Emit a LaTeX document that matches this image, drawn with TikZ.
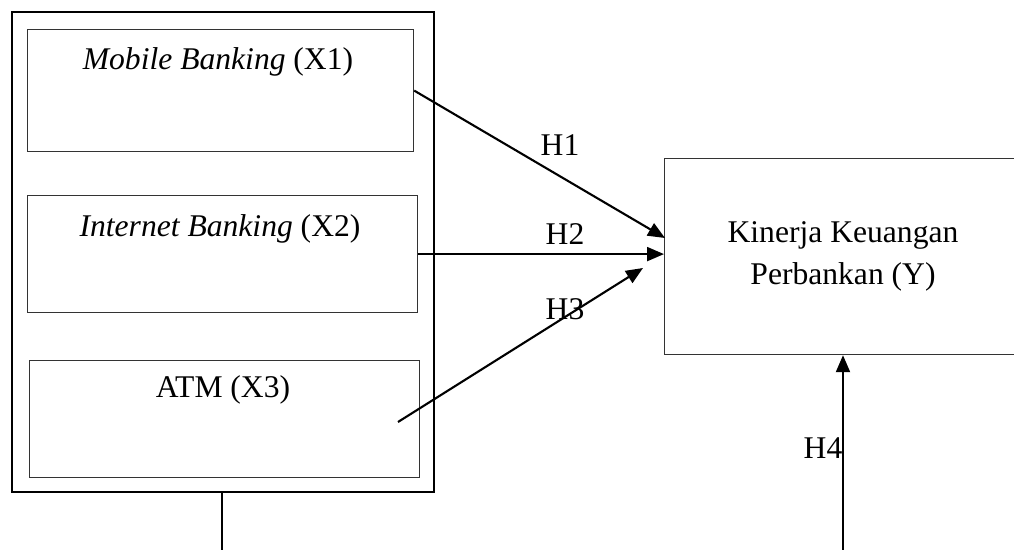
\documentclass[tikz,border=0pt]{standalone}
\usepackage{fontspec}
\setmainfont{Liberation Serif}
\usetikzlibrary{arrows.meta,positioning}

\begin{document}
\begin{tikzpicture}[
    x=0.5pt,y=-0.5pt,line cap=butt,
    >={Triangle[length=8.5pt,width=7pt]},
    txt/.style={font=\fontsize{15.8}{21}\selectfont,inner sep=0pt,align=center},
    varbox/.style={draw=black!80,line width=0.6pt,inner sep=0pt,anchor=north west},
    arr/.style={->,line width=1.05pt},
    hlab/.style={txt}]
  \useasboundingbox (0,0) rectangle (1014,550);
  % --- kotak luar variabel X
  \node[draw,line width=0.85pt,inner sep=0pt,anchor=north west,
        minimum width=211pt,minimum height=240pt] (outer) at (11,11) {};
  % --- kotak X1, X2, X3
  \node[varbox,minimum width=193pt,minimum height=61pt] (x1) at (27,29) {};
  \node[varbox,minimum width=195pt,minimum height=58.5pt] (x2) at (27,195) {};
  \node[varbox,minimum width=195pt,minimum height=58.5pt] (x3) at (29,360) {};
  \node[txt] (tx1) at (218,62) {\textit{Mobile Banking} (X1)};
  \node[txt] (tx2) at (220,229) {\textit{Internet Banking} (X2)};
  \node[txt] (tx3) at (223,390) {ATM (X3)};
  % --- kotak Y
  \node[varbox,minimum width=179pt,minimum height=98pt] (y) at (664,158) {};
  \node[txt] (ty) at (843,256) {Kinerja Keuangan\\Perbankan (Y)};
  % --- panah hipotesis
  \coordinate (h3a) at (398,422);
  \coordinate (h3b) at (643,268);
  \coordinate (h1b) at (665,238);
  \coordinate (h4a) at (843,550);
  \coordinate (lowa) at (222,550);
  \draw[arr] (x1.east) -- (h1b);
  \draw[arr] (x2.east) -- (x2.east -| y.west);
  \draw[arr] (h3a) -- (h3b);
  \draw[arr] (h4a) -- (h4a |- y.south);
  \draw[line width=0.85pt] (outer.south -| lowa) -- (lowa);
  % label H
  \node[hlab] (h1) at (560,145) {H1};
  \node[hlab] (h2) at (565,234) {H2};
  \node[hlab] (h3) at (565,309) {H3};
  \node[hlab] (h4) at (823,448) {H4};
\end{tikzpicture}
\end{document}
